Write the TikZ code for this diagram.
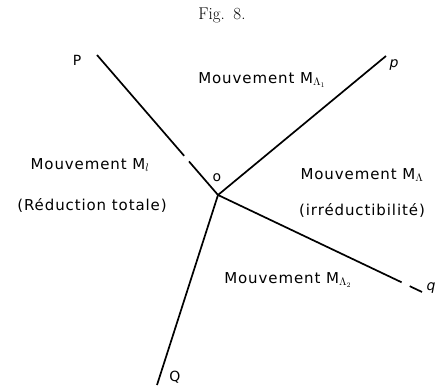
\documentclass[tikz,border=0pt]{standalone}
\usepackage{fontspec}
\newfontfamily\etiqfont[LetterSpace=6]{DejaVu Sans}
\usetikzlibrary{calc}
\tikzset{
  raza/.style     = {line width=1.7pt},
  eticheta/.style = {font=\etiqfont\fontsize{15}{17}\selectfont, inner sep=1pt, align=center},
  litera/.style   = {font=\etiqfont\fontsize{14}{16}\selectfont, inner sep=1pt},
  titlu/.style    = {font=\fontsize{17}{19}\selectfont, inner sep=0pt}
}
\begin{document}
\begin{tikzpicture}[x=1pt, y=-1pt]
    \useasboundingbox (0,0) rectangle (436,387);
    % puncte
    \coordinate (O)  at (218,195);
    \coordinate (Pc) at (97,55);
    \coordinate (pc) at (386,56);
    \coordinate (qc) at (422,292);
    \coordinate (Qc) at (157,385);

    \node[titlu] (fig) at (222,15) {Fig.\hspace{0.5em}8.};
    \node[litera] (P) at (77,60) {P};
    \node[litera] (p) at (394,65) {\itshape p};
    \node[litera] (q) at (431,288) {\itshape q};
    \node[litera] (Q) at (175,377) {Q};
    \node[litera] (o) at (217,178) {o};

    \draw[raza] (Pc) -- ($(Pc)!0.72!(O)$);
    \draw[raza] ($(Pc)!0.76!(O)$) -- (O);
    \draw[raza] (O) -- (pc);
    \draw[raza] (O) -- ($(O)!0.9!(qc)$);
    \draw[raza] ($(O)!0.94!(qc)$) -- (qc);
    \draw[raza] (O) -- (Qc);

    \node[eticheta] (mt) at (262,80) {Mouvement M$_{\Lambda_1}$};
    \node[eticheta] (ml) at (90,165) {Mouvement M$_{l}$};
    \node[eticheta] (rt) at (92,205) {(Réduction totale)};
    \node[eticheta] (mr) at (362,175) {Mouvement M$_{\Lambda}$};
    \node[eticheta] (ir) at (362,210) {(irréductibilité)};
    \node[eticheta] (mb) at (288,280) {Mouvement M$_{\Lambda_2}$};
\end{tikzpicture}
\end{document}
